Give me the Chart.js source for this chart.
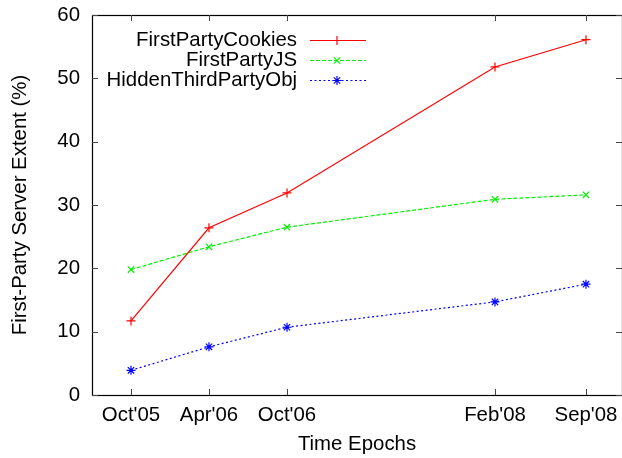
<!DOCTYPE html>
<html>
<head>
<meta charset="utf-8">
<script src="https://cdn.jsdelivr.net/npm/chart.js@4.4.1/dist/chart.umd.min.js"></script>
<style>
  html, body { margin: 0; padding: 0; background: #fff; }
  #wrap { width: 622px; height: 458px; }
</style>
</head>
<body>
<div id="wrap"><canvas id="epochChart" width="622" height="458"></canvas></div>
<script>
// time epochs, months counted from Oct'05
const epochLabels = ["Oct'05", "Apr'06", "Oct'06", "Feb'08", "Sep'08"];
const epochMonths = [0, 6, 12, 28, 35];

const firstPartyCookies = [11.7, 26.4, 31.9, 51.8, 56.1];
const firstPartyJS = [19.8, 23.4, 26.5, 30.9, 31.6];
const hiddenThirdPartyObj = [3.9, 7.6, 10.7, 14.7, 17.5];

const yTicks = [0, 10, 20, 30, 40, 50, 60];

const FONT = "'Liberation Sans', Arial, sans-serif";
const FSIZE = 20.4;

function toPoints(values) {
    return values.map((v, i) => ({ x: epochMonths[i], y: v }));
}

// frame + inward tick marks, gnuplot style
const framePlugin = {
    id: 'frame',
    afterDraw(chart) {
        const { ctx, chartArea: a, scales } = chart;
        ctx.save();
        ctx.strokeStyle = '#000';
        ctx.lineWidth = 1.2;
        ctx.strokeRect(a.left + 0.5, a.top + 0.5, a.right - a.left, a.bottom - a.top);
        ctx.lineWidth = 1;
        ctx.strokeStyle = '#444';
        ctx.beginPath();
        epochMonths.forEach(m => {
            const x = Math.round(scales.x.getPixelForValue(m)) + 0.5;
            ctx.moveTo(x, a.bottom); ctx.lineTo(x, a.bottom - 6);
            ctx.moveTo(x, a.top); ctx.lineTo(x, a.top + 6);
        });
        yTicks.forEach(v => {
            const y = Math.round(scales.y.getPixelForValue(v)) + 0.5;
            ctx.moveTo(a.left, y); ctx.lineTo(a.left + 6, y);
            ctx.moveTo(a.right, y); ctx.lineTo(a.right - 6, y);
        });
        ctx.stroke();
        ctx.restore();
    }
};

// legend: text right aligned, sample line on the right
const keyPlugin = {
    id: 'key',
    afterDatasetsDraw(chart) {
        const ctx = chart.ctx;
        ctx.save();
        ctx.font = FSIZE + 'px ' + FONT;
        ctx.textAlign = 'right';
        ctx.textBaseline = 'middle';
        chart.data.datasets.forEach((ds, i) => {
            const y = 40 + i * 20;
            ctx.fillStyle = '#000';
            ctx.fillText(ds.label, 297, y);
            ctx.strokeStyle = ds.borderColor;
            ctx.lineWidth = ds.borderWidth;
            ctx.setLineDash(ds.borderDash || []);
            ctx.beginPath();
            ctx.moveTo(310, y + 0.5);
            ctx.lineTo(366, y + 0.5);
            ctx.stroke();
            ctx.setLineDash([]);
            Chart.helpers.drawPoint(ctx, {
                pointStyle: ds.pointStyle, radius: ds.pointRadius,
                borderWidth: ds.pointBorderWidth, rotation: 0
            }, 337, y + 0.5);
        });
        ctx.restore();
    }
};

function series(label, values, color, dash, style) {
    return {
        label: label,
        data: toPoints(values),
        borderColor: color,
        backgroundColor: color,
        borderWidth: 1.2,
        borderDash: dash,
        pointStyle: style,
        pointRadius: 4.5,
        pointBorderWidth: 1.2,
        pointBorderColor: color,
        tension: 0,
        fill: false
    };
}

const ctx = document.getElementById('epochChart').getContext('2d');
const chart = new Chart(ctx, {
    type: 'line',
    data: {
        datasets: [
            series('FirstPartyCookies', firstPartyCookies, '#ff0000', [], 'cross'),
            series('FirstPartyJS', firstPartyJS, '#00f000', [4, 2], 'crossRot'),
            series('HiddenThirdPartyObj', hiddenThirdPartyObj, '#0000ff', [2, 2.5], 'star')
        ]
    },
    options: {
        responsive: false,
        animation: false,
        layout: { autoPadding: false, padding: { top: 15, right: 0, left: 0, bottom: 0 } },
        plugins: {
            legend: { display: false },
            tooltip: { enabled: false }
        },
        scales: {
            x: {
                type: 'linear',
                min: -3,
                max: 37.77,
                afterBuildTicks: s => { s.ticks = epochMonths.map(v => ({ value: v })); },
                afterFit: s => { s.height = 63; },
                // grid hidden, tickLength only used as label offset
                grid: { display: false, drawTicks: true, tickLength: 8 },
                border: { display: false },
                ticks: {
                    color: '#000',
                    padding: 0,
                    maxRotation: 0,
                    autoSkip: false,
                    font: { family: FONT, size: FSIZE },
                    callback: v => epochLabels[epochMonths.indexOf(v)]
                },
                title: {
                    display: true,
                    text: 'Time Epochs',
                    color: '#000',
                    padding: { top: 0, bottom: 1 },
                    font: { family: FONT, size: FSIZE }
                }
            },
            y: {
                min: 0,
                max: 60,
                afterBuildTicks: s => { s.ticks = yTicks.map(v => ({ value: v })); },
                afterFit: s => { s.width = 92; },
                grid: { display: false, drawTicks: true, tickLength: 12 },
                border: { display: false },
                ticks: {
                    color: '#000',
                    padding: 0,
                    font: { family: FONT, size: FSIZE }
                },
                title: {
                    display: true,
                    text: 'First-Party Server Extent (%)',
                    color: '#000',
                    padding: { top: 8, bottom: 0 },
                    font: { family: FONT, size: FSIZE }
                }
            }
        }
    },
    plugins: [framePlugin, keyPlugin]
});
</script>
</body>
</html>
